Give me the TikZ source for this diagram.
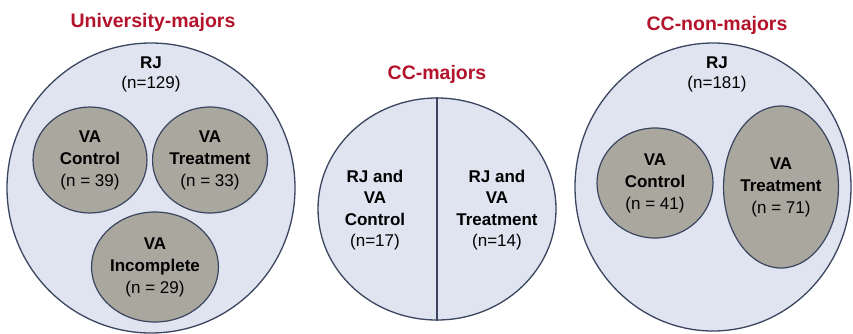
\documentclass[tikz,border=0pt]{standalone}
\usepackage{fontspec}
\setmainfont{Liberation Sans}
\usetikzlibrary{shapes.geometric}
\definecolor{outerfill}{HTML}{DFE4F0}
\definecolor{innerfill}{HTML}{A9A79E}
\definecolor{edgecol}{HTML}{3A4560}
\definecolor{titlered}{HTML}{B3142C}
\begin{document}
\begin{tikzpicture}[x=1pt,y=-1pt,
  outer/.style={ellipse, draw=edgecol, line width=1.3pt, fill=outerfill, inner sep=0pt},
  inner/.style={ellipse, draw=edgecol, line width=1.2pt, fill=innerfill, inner sep=0pt, align=center, font=\fontsize{17}{22}\selectfont},
  grouptitle/.style={font=\fontsize{19.5}{22}\selectfont\bfseries, text=titlered},
  lbl/.style={align=center, font=\fontsize{17}{21.5}\selectfont},
  rjlbl/.style={align=center, font=\fontsize{17}{20}\selectfont},
  divider/.style={draw=edgecol, line width=1.2pt}]
\useasboundingbox (0,0) rectangle (853,333);
\fill[white] (0,0) rectangle (853,333);
% University-majors
\node[grouptitle] (t1) at (153,22) {University-majors};
\node[outer, minimum width=288pt, minimum height=290pt] (um) at (151,188) {};
\node[rjlbl] (umrj) at (151,74) {\textbf{RJ}\\(n=129)};
\node[inner, minimum width=114pt, minimum height=106pt] (umc) at (90,160) {\textbf{VA}\\\textbf{Control}\\(n = 39)};
\node[inner, minimum width=106pt, minimum height=106pt] (umt) at (210,160) {\textbf{VA}\\\textbf{Treatment}\\(n = 33)};
\node[inner, minimum width=116pt, minimum height=110pt] (umi) at (155,267) {\textbf{VA}\\\textbf{Incomplete}\\(n = 29)};
% CC-majors
\node[grouptitle] (t2) at (437,74) {CC-majors};
\node[outer, minimum width=238pt, minimum height=222pt] (cc) at (437,209) {};
\draw[divider] (cc.north) -- (cc.south);
\node[lbl] (ccl) at (375,210) {\textbf{RJ and}\\\textbf{VA}\\\textbf{Control}\\(n=17)};
\node[lbl] (ccr) at (497,210) {\textbf{RJ and}\\\textbf{VA}\\\textbf{Treatment}\\(n=14)};
% CC-non-majors
\node[grouptitle] (t3) at (717,25) {CC-non-majors};
\node[outer, minimum width=276pt, minimum height=288pt] (cn) at (713,187) {};
\node[rjlbl] (cnrj) at (717,74) {\textbf{RJ}\\(n=181)};
\node[inner, minimum width=116pt, minimum height=110pt] (cnc) at (655,183) {\textbf{VA}\\\textbf{Control}\\(n = 41)};
\node[inner, minimum width=112pt, minimum height=162pt] (cnt) at (781,187) {\textbf{VA}\\\textbf{Treatment}\\(n = 71)};
\end{tikzpicture}
\end{document}
